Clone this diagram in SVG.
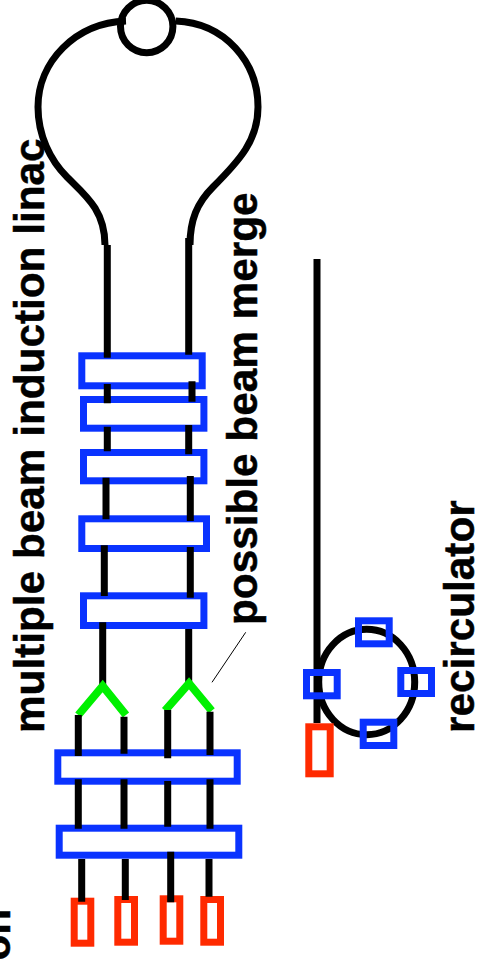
<svg xmlns="http://www.w3.org/2000/svg" width="480" height="959" viewBox="0 0 480 959">
<style>
text{font-family:"Liberation Sans",Arial,sans-serif;font-weight:bold;font-size:42.3px;fill:#000;stroke:#000;stroke-width:.5}
.b{fill:#fff;stroke:#0a33ff;stroke-width:7}
.o{fill:none;stroke:#0a33ff;stroke-width:7}
.r{fill:#fff;stroke:#ff2a00;stroke-width:7}
.l{fill:none;stroke:#000;stroke-width:7}
.g{fill:none;stroke:#00f000;stroke-width:8}
</style>
<rect width="480" height="959" fill="#fff"/>
<g id="label-linac"><text transform="translate(43.5 733) rotate(-90)">multiple beam induction linac</text></g>
<g id="label-merge"><text transform="translate(257 625) rotate(-90)">possible beam merge</text></g>
<g id="label-recirculator"><text transform="translate(474 733) rotate(-90)">recirculator</text></g>
<g id="label-clipped"><text transform="translate(9.500 960.500) rotate(-90)">on</text></g>
<g id="linac-cells">
<rect class="b" x="81.8" y="355.8" width="120.4" height="30"/>
<rect class="b" x="83.5" y="399.5" width="120.4" height="28.7"/>
<rect class="b" x="83.5" y="452.5" width="120.4" height="28.3"/>
<rect class="b" x="81.8" y="518.8" width="124.7" height="29.7"/>
<rect class="b" x="83.5" y="595.8" width="120.4" height="29.7"/>
<rect class="b" x="57.8" y="752.8" width="179.4" height="28.4"/>
<rect class="b" x="59.2" y="828.2" width="179.6" height="27"/>
</g>
<g id="sources">
<rect class="r" x="74.2" y="901.2" width="16.6" height="42"/>
<rect class="r" x="117.8" y="899.5" width="16.7" height="42.7"/>
<rect class="r" x="163.2" y="898.8" width="16.6" height="42.4"/>
<rect class="r" x="203.8" y="899.5" width="16.7" height="42.7"/>
</g>
<g id="connectors">
<circle class="l" cx="146.7" cy="26.5" r="26.2"/>
<path class="l" d="M126 21C75 23 38 62 38 107C38 135 50 160 67 177C85 195 105 210 105 245"/>
<path class="l" d="M175.700 21C225 23 258 62 258 107C258 140 240 160 213 187C197 203 190 220 190 245"/>
<path class="l" d="M107.300 245V357.700M107.300 384V403.300M107.300 426.700V451.300M106 477.700V519.300M104.300 545.300V596M102.700 622.300V686.700"/>
<path class="l" d="M188.700 238V354.700M192 381.300V401.700M188.700 425V454.300M190.300 476V521M190.300 547V597.700M188.700 629V685"/>
<path class="g" d="M78.300 715L102.700 686L126 715M165 710.700L189 683.300L211.700 710.700"/>
<path class="l" d="M78.300 715V756M124 716.700V753.700M167.700 710V758.300M210 711.700V755"/>
<path class="l" d="M78.300 779.300V828.700M124 779.300V828.700M167.700 781V826.700M210 779.300V828.700"/>
<path class="l" d="M81.700 859V901.700M125.300 859V900M170.700 851.700V902.300M209 859V896.700"/>
<path d="M212 682.300L245.700 632.300" fill="none" stroke="#000" stroke-width="1"/>
<path class="l" d="M317 259V723"/>
<ellipse class="l" cx="366.700" cy="682" rx="48" ry="52.700"/>
</g>
<g id="recirculator-magnets">
<rect class="o" x="358.500" y="620.800" width="30.700" height="23"/>
<rect class="o" x="306.500" y="672.500" width="30.700" height="23.300"/>
<rect class="o" x="400.800" y="670.500" width="30.700" height="23"/>
<rect class="o" x="363.200" y="722.200" width="30.600" height="23.300"/>
</g>
<g id="recirculator-source"><rect class="r" x="308.800" y="726.800" width="21.400" height="47"/></g>
</svg>
